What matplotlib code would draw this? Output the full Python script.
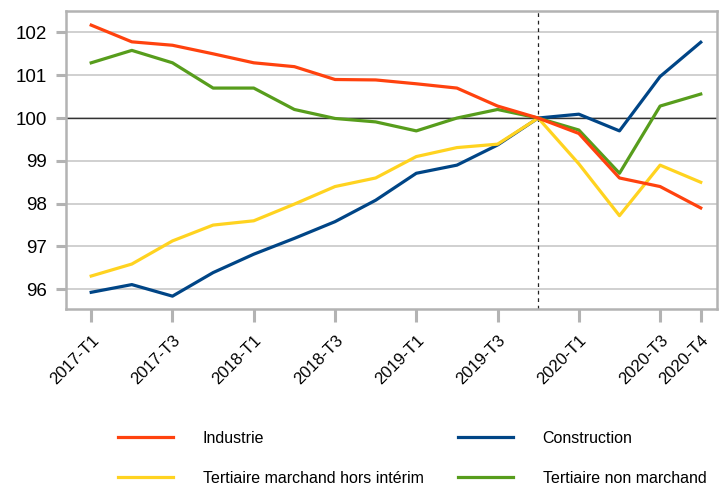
import matplotlib
matplotlib.use("Agg")
import matplotlib.pyplot as plt

plt.rcParams['font.family'] = ['Liberation Sans', 'DejaVu Sans']

quarters = ["2017-T1", "2017-T2", "2017-T3", "2017-T4",
            "2018-T1", "2018-T2", "2018-T3", "2018-T4",
            "2019-T1", "2019-T2", "2019-T3", "2019-T4",
            "2020-T1", "2020-T2", "2020-T3", "2020-T4"]
shown_ticks = ["2017-T1", "2017-T3", "2018-T1", "2018-T3", "2019-T1",
               "2019-T3", "2020-T1", "2020-T3", "2020-T4"]

industrie = [102.17, 101.78, 101.70, 101.50, 101.29, 101.20, 100.90, 100.89,
             100.80, 100.70, 100.28, 100.00, 99.64, 98.60, 98.40, 97.90]
construction = [95.93, 96.11, 95.84, 96.39, 96.82, 97.19, 97.58, 98.08,
                98.71, 98.90, 99.37, 100.00, 100.09, 99.70, 100.97, 101.77]
tertiaire_marchand = [96.31, 96.59, 97.13, 97.50, 97.60, 97.99, 98.40, 98.60,
                      99.10, 99.31, 99.39, 100.00, 98.93, 97.72, 98.90, 98.50]
tertiaire_non_marchand = [101.29, 101.58, 101.29, 100.70, 100.70, 100.20, 99.99, 99.91,
                          99.70, 100.00, 100.20, 100.00, 99.72, 98.71, 100.28, 100.56]

fig = plt.figure(figsize=(7.19, 4.88), dpi=100)
ax = fig.add_axes([66 / 719, 1 - 309 / 488, (717 - 66) / 719, (309 - 11) / 488])

x = list(range(len(quarters)))
lw = 2.3
l1, = ax.plot(x, industrie, color="#FF420E", lw=lw, label="Industrie", zorder=4)
l2, = ax.plot(x, construction, color="#004586", lw=lw, label="Construction", zorder=3)
l3, = ax.plot(x, tertiaire_marchand, color="#FFD320", lw=lw,
              label="Tertiaire marchand hors intérim", zorder=3)
l4, = ax.plot(x, tertiaire_non_marchand, color="#579D1C", lw=lw,
              label="Tertiaire non marchand", zorder=3)

ax.axhline(100, color="#333333", lw=1.0, zorder=2)
ax.axvline(quarters.index("2019-T4"), color="#222222", lw=0.9, ls=(0, (3, 3)), zorder=2)

ax.set_xlim(-0.62, 15.4)
ax.set_ylim(95.54, 102.5)
ax.set_yticks([96, 97, 98, 99, 100, 101, 102])
ax.yaxis.grid(True, color="#c8c8c8", lw=1.2)
ax.set_axisbelow(True)

ax.set_xticks([quarters.index(q) for q in shown_ticks])
ax.set_xticklabels(shown_ticks, rotation=45, ha="right", rotation_mode="anchor", fontsize=12)
ax.tick_params(axis="x", length=9, width=2.2, color="#b3b3b3", pad=8)
ax.tick_params(axis="y", length=7, width=2.2, color="#b3b3b3", labelsize=13.5, pad=7)

for s in ax.spines.values():
    s.set_color("#b3b3b3")
    s.set_linewidth(1.8)

fig.legend(handles=[l1, l3, l2, l4], ncol=2, frameon=False, fontsize=11.5,
           loc="upper left", bbox_to_anchor=(110 / 719, 1 - 423 / 488),
           borderpad=0, handlelength=3.45, handletextpad=1.85,
           columnspacing=2.15, labelspacing=1.55)

fig.savefig("out.png", dpi=100)
